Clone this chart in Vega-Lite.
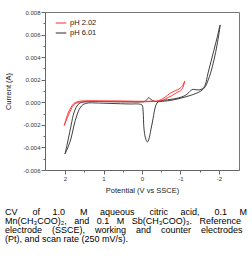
{
  "$schema": "https://vega.github.io/schema/vega-lite/v6.json",
  "width": 194,
  "height": 158,
  "autosize": {"type": "none"},
  "padding": {"left": 45, "top": 12, "right": 13, "bottom": 91},
  "background": "white",
  "config": {
    "font": "Liberation Sans",
    "view": {"stroke": "#777", "strokeWidth": 1},
    "axis": {"grid": false, "domainColor": "#666", "tickColor": "#666", "labelColor": "#333", "labelFontSize": 6, "titleFontSize": 7.5, "titleFontWeight": "normal", "titleColor": "#222", "labelFont": "Liberation Sans", "titleFont": "Liberation Sans"}
  },
  "title": {
    "text": [
      "CV\u00a0\u00a0\u00a0\u00a0\u00a0\u00a0of\u00a0\u00a0\u00a0\u00a0\u00a01.0\u00a0\u00a0\u00a0\u00a0\u00a0\u00a0M\u00a0\u00a0\u00a0\u00a0\u00a0aqueous\u00a0\u00a0\u00a0\u00a0\u00a0\u00a0citric\u00a0\u00a0\u00a0\u00a0\u00a0acid,\u00a0\u00a0\u00a0\u00a0\u00a0\u00a00.1\u00a0\u00a0\u00a0\u00a0\u00a0M",
      "Mn(CH\u2083COO)\u2082,\u00a0\u00a0\u00a0and\u00a0\u00a0\u00a00.1\u00a0\u00a0\u00a0M\u00a0\u00a0\u00a0Sb(CH\u2083COO)\u2083.\u00a0\u00a0\u00a0Reference",
      "electrode\u00a0\u00a0\u00a0\u00a0(SSCE),\u00a0\u00a0\u00a0\u00a0working\u00a0\u00a0\u00a0\u00a0and\u00a0\u00a0\u00a0\u00a0counter\u00a0\u00a0\u00a0\u00a0electrodes",
      "(Pt), and scan rate (250 mV/s)."
    ],
    "orient": "bottom",
    "anchor": "start",
    "frame": "bounds",
    "font": "Liberation Sans",
    "fontSize": 9,
    "fontWeight": "normal",
    "color": "#000",
    "lineHeight": 9.2,
    "baseline": "top",
    "offset": 14
  },
  "data": {
    "values": [
      {"s": "pH 6.01", "i": 1, "v": 2.0, "c": -0.00458},
      {"s": "pH 6.01", "i": 2, "v": 1.92, "c": -0.00334},
      {"s": "pH 6.01", "i": 3, "v": 1.84, "c": -0.00201},
      {"s": "pH 6.01", "i": 4, "v": 1.77, "c": -0.00095},
      {"s": "pH 6.01", "i": 5, "v": 1.69, "c": -0.00033},
      {"s": "pH 6.01", "i": 6, "v": 1.61, "c": -0.00006},
      {"s": "pH 6.01", "i": 7, "v": 1.48, "c": 0.00003},
      {"s": "pH 6.01", "i": 8, "v": 1.22, "c": 0.00007},
      {"s": "pH 6.01", "i": 9, "v": 0.83, "c": 0.00005},
      {"s": "pH 6.01", "i": 10, "v": 0.31, "c": 0.00003},
      {"s": "pH 6.01", "i": 11, "v": 0.05, "c": 0.00003},
      {"s": "pH 6.01", "i": 12, "v": -0.08, "c": 0.00007},
      {"s": "pH 6.01", "i": 13, "v": -0.13, "c": 0.00025},
      {"s": "pH 6.01", "i": 14, "v": -0.18, "c": 0.00041},
      {"s": "pH 6.01", "i": 15, "v": -0.23, "c": 0.00025},
      {"s": "pH 6.01", "i": 16, "v": -0.34, "c": 0.00007},
      {"s": "pH 6.01", "i": 17, "v": -0.47, "c": 0.00007},
      {"s": "pH 6.01", "i": 18, "v": -0.73, "c": 0.00016},
      {"s": "pH 6.01", "i": 19, "v": -0.99, "c": 0.00035},
      {"s": "pH 6.01", "i": 20, "v": -1.25, "c": 0.0006},
      {"s": "pH 6.01", "i": 21, "v": -1.4, "c": 0.00078},
      {"s": "pH 6.01", "i": 22, "v": -1.53, "c": 0.001},
      {"s": "pH 6.01", "i": 23, "v": -1.64, "c": 0.00136},
      {"s": "pH 6.01", "i": 24, "v": -1.71, "c": 0.00189},
      {"s": "pH 6.01", "i": 25, "v": -1.79, "c": 0.00268},
      {"s": "pH 6.01", "i": 26, "v": -1.87, "c": 0.00375},
      {"s": "pH 6.01", "i": 27, "v": -1.95, "c": 0.00508},
      {"s": "pH 6.01", "i": 28, "v": -2.03, "c": 0.00685},
      {"s": "pH 6.01", "i": 29, "v": -1.95, "c": 0.0057},
      {"s": "pH 6.01", "i": 30, "v": -1.87, "c": 0.00463},
      {"s": "pH 6.01", "i": 31, "v": -1.79, "c": 0.00357},
      {"s": "pH 6.01", "i": 32, "v": -1.71, "c": 0.00251},
      {"s": "pH 6.01", "i": 33, "v": -1.65, "c": 0.00162},
      {"s": "pH 6.01", "i": 34, "v": -1.58, "c": 0.00122},
      {"s": "pH 6.01", "i": 35, "v": -1.48, "c": 0.00109},
      {"s": "pH 6.01", "i": 36, "v": -1.38, "c": 0.00113},
      {"s": "pH 6.01", "i": 37, "v": -1.3, "c": 0.00113},
      {"s": "pH 6.01", "i": 38, "v": -1.22, "c": 0.00087},
      {"s": "pH 6.01", "i": 39, "v": -1.12, "c": 0.0006},
      {"s": "pH 6.01", "i": 40, "v": -0.94, "c": 0.00038},
      {"s": "pH 6.01", "i": 41, "v": -0.73, "c": 0.00025},
      {"s": "pH 6.01", "i": 42, "v": -0.47, "c": 0.00012},
      {"s": "pH 6.01", "i": 43, "v": -0.39, "c": -0.00006},
      {"s": "pH 6.01", "i": 44, "v": -0.34, "c": -0.0005},
      {"s": "pH 6.01", "i": 45, "v": -0.29, "c": -0.0014},
      {"s": "pH 6.01", "i": 46, "v": -0.23, "c": -0.00245},
      {"s": "pH 6.01", "i": 47, "v": -0.18, "c": -0.00325},
      {"s": "pH 6.01", "i": 48, "v": -0.14, "c": -0.00352},
      {"s": "pH 6.01", "i": 49, "v": -0.09, "c": -0.00316},
      {"s": "pH 6.01", "i": 50, "v": -0.05, "c": -0.00228},
      {"s": "pH 6.01", "i": 51, "v": -0.03, "c": -0.00086},
      {"s": "pH 6.01", "i": 52, "v": 0.0, "c": -0.00024},
      {"s": "pH 6.01", "i": 53, "v": 0.1, "c": -0.00015},
      {"s": "pH 6.01", "i": 54, "v": 0.31, "c": -0.00015},
      {"s": "pH 6.01", "i": 55, "v": 0.83, "c": -0.0001},
      {"s": "pH 6.01", "i": 56, "v": 1.22, "c": -0.00006},
      {"s": "pH 6.01", "i": 57, "v": 1.4, "c": -0.00006},
      {"s": "pH 6.01", "i": 58, "v": 1.53, "c": -0.0002},
      {"s": "pH 6.01", "i": 59, "v": 1.61, "c": -0.0005},
      {"s": "pH 6.01", "i": 60, "v": 1.69, "c": -0.00113},
      {"s": "pH 6.01", "i": 61, "v": 1.77, "c": -0.0021},
      {"s": "pH 6.01", "i": 62, "v": 1.84, "c": -0.00316},
      {"s": "pH 6.01", "i": 63, "v": 1.92, "c": -0.00396},
      {"s": "pH 6.01", "i": 64, "v": 2.0, "c": -0.00458},
      {"s": "pH 2.02", "i": 1, "v": 2.02, "c": -0.00206},
      {"s": "pH 2.02", "i": 2, "v": 1.92, "c": -0.00095},
      {"s": "pH 2.02", "i": 3, "v": 1.84, "c": -0.00042},
      {"s": "pH 2.02", "i": 4, "v": 1.77, "c": -0.00011},
      {"s": "pH 2.02", "i": 5, "v": 1.66, "c": 0.00007},
      {"s": "pH 2.02", "i": 6, "v": 1.48, "c": 0.00013},
      {"s": "pH 2.02", "i": 7, "v": 1.09, "c": 0.00013},
      {"s": "pH 2.02", "i": 8, "v": 0.57, "c": 0.00012},
      {"s": "pH 2.02", "i": 9, "v": 0.05, "c": 0.00009},
      {"s": "pH 2.02", "i": 10, "v": -0.21, "c": 0.0001},
      {"s": "pH 2.02", "i": 11, "v": -0.42, "c": 0.00014},
      {"s": "pH 2.02", "i": 12, "v": -0.6, "c": 0.00045},
      {"s": "pH 2.02", "i": 13, "v": -0.73, "c": 0.0008},
      {"s": "pH 2.02", "i": 14, "v": -0.88, "c": 0.00105},
      {"s": "pH 2.02", "i": 15, "v": -0.99, "c": 0.00124},
      {"s": "pH 2.02", "i": 16, "v": -1.06, "c": 0.0015},
      {"s": "pH 2.02", "i": 17, "v": -1.11, "c": 0.00189},
      {"s": "pH 2.02", "i": 18, "v": -1.03, "c": 0.00112},
      {"s": "pH 2.02", "i": 19, "v": -0.9, "c": 0.00085},
      {"s": "pH 2.02", "i": 20, "v": -0.77, "c": 0.00058},
      {"s": "pH 2.02", "i": 21, "v": -0.62, "c": 0.00033},
      {"s": "pH 2.02", "i": 22, "v": -0.51, "c": 0.00014},
      {"s": "pH 2.02", "i": 23, "v": -0.36, "c": 0.00008},
      {"s": "pH 2.02", "i": 24, "v": -0.21, "c": 0.00006},
      {"s": "pH 2.02", "i": 25, "v": 0.05, "c": 0.00005},
      {"s": "pH 2.02", "i": 26, "v": 0.57, "c": 0.00006},
      {"s": "pH 2.02", "i": 27, "v": 1.09, "c": 0.00007},
      {"s": "pH 2.02", "i": 28, "v": 1.48, "c": 0.00007},
      {"s": "pH 2.02", "i": 29, "v": 1.66, "c": -0.00002},
      {"s": "pH 2.02", "i": 30, "v": 1.77, "c": -0.0002},
      {"s": "pH 2.02", "i": 31, "v": 1.84, "c": -0.0006},
      {"s": "pH 2.02", "i": 32, "v": 1.92, "c": -0.0012},
      {"s": "pH 2.02", "i": 33, "v": 2.02, "c": -0.00206}
    ]
  },
  "mark": {"type": "line", "strokeWidth": 0.9, "interpolate": "catmull-rom"},
  "encoding": {
    "x": {
      "field": "v", "type": "quantitative",
      "scale": {"domain": [-2.52, 2.52], "reverse": true, "nice": false},
      "axis": {
        "title": "Potential (V vs SSCE)",
        "values": [2, 1.5, 1, 0.5, 0, -0.5, -1, -1.5, -2],
        "labelExpr": "datum.value % 1 === 0 ? (datum.value < 0 ? '-' + abs(datum.value) : '' + datum.value) : ''",
        "tickSize": {"condition": {"test": "datum.value % 1 === 0", "value": 4}, "value": 2},
        "labelPadding": 1,
        "titlePadding": 5
      }
    },
    "y": {
      "field": "c", "type": "quantitative",
      "scale": {"domain": [-0.006, 0.008], "nice": false, "zero": false},
      "axis": {
        "title": "Current (A)",
        "values": [-0.006, -0.005, -0.004, -0.003, -0.002, -0.001, 0, 0.001, 0.002, 0.003, 0.004, 0.005, 0.006, 0.007, 0.008],
        "labelExpr": "round(datum.value * 1000) % 2 === 0 ? (datum.value < 0 ? '-' + format(abs(datum.value), '.3f') : format(datum.value, '.3f')) : ''",
        "tickSize": {"condition": {"test": "round(datum.value * 1000) % 2 === 0", "value": 4}, "value": 2},
        "labelPadding": 1,
        "titlePadding": 10
      }
    },
    "color": {
      "field": "s", "type": "nominal",
      "scale": {"domain": ["pH 2.02", "pH 6.01"], "range": ["#ff2a2a", "#2a2a2a"]},
      "legend": {
        "title": null,
        "orient": "none",
        "legendX": 10,
        "legendY": 5,
        "symbolType": "stroke",
        "symbolSize": 110,
        "symbolStrokeWidth": 1,
        "labelFontSize": 7.5,
        "labelColor": "#222",
        "labelFont": "Liberation Sans",
        "labelOffset": 3,
        "rowPadding": 0,
        "padding": 0
      }
    },
    "order": {"field": "i", "type": "quantitative"}
  }
}
